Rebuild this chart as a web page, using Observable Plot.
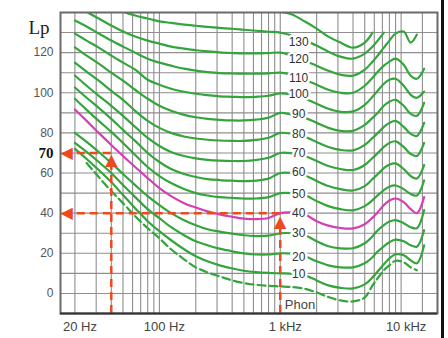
<!DOCTYPE html>
<html><head><meta charset="utf-8">
<script src="https://cdn.jsdelivr.net/npm/d3@7"></script>
<script src="https://cdn.jsdelivr.net/npm/@observablehq/plot@0.6"></script>
<style>body{margin:0;background:#fff}#chart svg{display:block}</style>
</head><body><div id="chart"></div>
<script>
// frequency grid (Hz) shared by all contours
const freqs = [20,25,31.5,40,50,63,80,100,125,160,200,250,315,400,500,630,800,1000,1250,1600,2000,2500,3150,4000,5000,5800,6300,7200,8000,9000,10500,12000,13500,15500];
// sound pressure level Lp (dB) per contour
const thr  = [null,65,58,51,45,38.5,32.5,27.5,22,17,13,10.5,8.5,6.5,5.2,4.3,3.8,3.5,3.2,2.3,0.5,-1.8,-3.5,-4,-2,4,7,11.5,14,16.3,15.5,13,11.5,null];
const p10  = [72,67,61.5,55.5,49,42.5,36,31,26.5,22,18.5,16,14,12.5,11.3,10.6,10.2,10,9.8,9,6.5,4,2.8,2.5,4.5,8,10.5,14.5,17.5,19.5,19,16.5,15,24];
const p20  = [75,70.5,65.5,60,54,48,42,37.5,33,29,26,24,22.3,21,20,19.4,19.4,20,19.8,18.5,16,14,13,13,15,18,20.5,23.5,25.5,26.8,26,24,23.3,31.5];
const p30  = [80,75.5,70.5,65,59.5,54,48.5,44,40,36.5,34,32,30.8,29.8,29,28.6,28.8,30,30,29,26,23.5,22.5,22.5,25,28.5,31,34,35.8,36.5,35,33,32.5,41.5];
const p40  = [91.7,86,80,74,68.5,63,57.5,52.5,48.5,45,42.8,40.9,39.4,38.2,37.3,37,37.6,40,40.3,39.3,36,33.8,32.6,32.4,34.5,37.8,40,44,46.3,47.3,45.5,42,40,48];
const p50  = [97,91.5,86,80.5,75,69,63,58.5,55,52,50,48.8,48,47.6,47.3,47.3,48,50,50,49,46,43.5,42,41.4,43.5,46.5,48.5,51.5,53.2,53.8,52,49.5,48.8,56.3];
const p60  = [102.6,97.5,92.5,87,81.5,76,70,65.5,62,59.5,58,57,56.5,56.2,56,56.2,57.2,60,60,58.8,56,53.5,52,51.3,53.5,57,59,62.5,64.2,64.8,62,58.5,57.3,64];
const p70  = [108.6,103.5,98.5,93.5,88.5,83,77.5,73.5,70.5,68.5,67.3,66.6,66.2,66,66,66.5,67.6,70,69.8,68.5,66,63.5,62,61.5,64,67.5,69.5,73,75,75.8,73,69.5,68.5,75];
const p80  = [115,110.5,106,101,96.5,91,86,82.5,80,78.2,77.2,76.6,76.2,76,76,76.5,77.6,80,79.5,78,75.5,73,71.5,71.3,74,77.5,79.5,83,85,86,83,79.5,78.5,85];
const p90  = [122.6,118.5,114.5,110,106,101.5,97,93.5,91,89,87.8,87,86.5,86.2,86.2,86.6,87.6,90,89,87.5,85,82.5,81,81,84,87.5,89.5,93.5,95.5,96.5,93.5,89.5,88.5,95];
const p100 = [129.5,126,122.5,118.5,115,111.5,106.5,104,102,100.5,99.5,98.8,98.2,98,97.8,98,98.5,99.7,99,97,94.5,92,90.5,90.7,94,98,100.5,104.5,106.5,107,103.5,99,97.5,100.6];
const p110 = [136,133,129.5,126,123,120,117,115,113.5,112,111,110.3,109.8,109.6,109.5,109.5,109.7,110,109,106.5,104,101.5,100,100,103.5,107.5,110,113.5,115.5,117,114,108.5,107,112];
const p120 = [146,140.5,137,133.5,130.5,128,126,124.5,123,122,121.2,120.6,120.1,119.8,119.6,119.6,119.8,120,118.5,116,113.5,111,109,108.5,111.5,115.5,118,122.5,126,129.5,130.5,125,129,null];
const p130 = [null,null,148,144,140.5,138.5,137,135.6,134.8,134,133.4,132.8,132.3,131.9,131.4,130.9,130.4,130,128.5,126,123.5,120.5,118,117,119.5,123,125.5,130,null,null,null,null,null,null];
const p140 = [null,null,null,null,null,null,null,null,null,null,null,null,null,null,null,null,null,140.4,139,135.5,132,128,125,122.5,125,130,null,null,null,null,null,null,null,null];

const curvePhons = [0,10,20,30,40,50,60,70,80,90,100,110,120,130,140];
const curveValues = [thr,p10,p20,p30,p40,p50,p60,p70,p80,p90,p100,p110,p120,p130,p140];

// curve labels (phon) and their Lp positions near 1.4 kHz
const labelPhons = [10,20,30,40,50,60,70,80,90,100,110,120,130];
const labelLp    = [9.5,18,30,40,49.3,60.3,69.8,79.2,89.2,99.2,107.1,116.6,125.1];
const labelFreq = 1420;

// axes
const yTicks = [0,20,40,60,80,100,120];
const yMarked = [70];
const xTicks = [20,100,1000,10000];
const xTickLabels = ["20 Hz","100 Hz","1 kHz","10 kHz"];
const xGrid = [20,30,40,50,60,70,80,90,100,200,300,400,500,600,700,800,900,1000,2000,3000,4000,5000,6000,7000,8000,9000,10000,15000];
const yGrid = [0,10,20,30,40,50,60,70,80,90,100,110,120,130];
const xDomain = [15.2, 20000];
const yDomain = [-10, 140];

// red reading arrows
const hArrows = [{y:70, from:40, to:19.5}, {y:40, from:1000, to:19.5}];
const vArrows = [{x:40, from:-10, to:65}, {x:1000, from:-10, to:34.5}];
const leftTips = [{y:70, x:15.8}, {y:40, x:15.8}];
const upTips = [{x:40, y:70}, {x:1000, y:39}];

const green = "#34a53c", magenta = "#d43fb3", red = "#ec4a1c";

const rows = curvePhons.flatMap((p, k) => curveValues[k].map((db, i) => ({phon: p, f: freqs[i], db})));
const labels = labelPhons.map((p, i) => ({phon: p, lp: labelLp[i], f: labelFreq}));

const chart = Plot.plot({
  width: 448, height: 338,
  marginLeft: 60, marginRight: 11, marginTop: 12, marginBottom: 25,
  x: {type: "log", domain: xDomain, axis: null},
  y: {domain: yDomain, axis: null},
  style: {background: "white", fontFamily: "'Liberation Sans', Arial, sans-serif"},
  marks: [
    Plot.ruleX(xGrid, {stroke: "#8e8e8e", strokeWidth: 1.1}),
    Plot.ruleY(yGrid, {stroke: "#8e8e8e", strokeWidth: 1.1}),
    Plot.line(rows.filter(d => d.phon > 0 && d.phon !== 40), {x: "f", y: "db", z: "phon", stroke: green, strokeWidth: 2.2, curve: "catmull-rom", clip: true}),
    Plot.line(rows.filter(d => d.phon === 0), {x: "f", y: "db", stroke: green, strokeWidth: 2.2, strokeDasharray: "8,4", curve: "catmull-rom", clip: true}),
    Plot.line(rows.filter(d => d.phon === 40), {x: "f", y: "db", stroke: magenta, strokeWidth: 2.2, curve: "catmull-rom", clip: true}),
    Plot.ruleY(hArrows, {y: "y", x1: "from", x2: "to", stroke: red, strokeWidth: 2.5, strokeDasharray: "8,5"}),
    Plot.ruleX(vArrows, {x: "x", y1: "from", y2: "to", stroke: red, strokeWidth: 2.5, strokeDasharray: "8,5"}),
    Plot.text(leftTips, {x: "x", y: "y", text: () => "\u25C0", fill: red, fontSize: 16, textAnchor: "start", dx: -2, fontFamily: "DejaVu Sans"}),
    Plot.text(upTips, {x: "x", y: "y", text: () => "\u25B2", fill: red, fontSize: 16, dy: 7, fontFamily: "DejaVu Sans"}),
    Plot.text(labels, {x: "f", y: "lp", text: d => String(d.phon), fill: "#333", stroke: "white", strokeWidth: 5, paintOrder: "stroke", fontSize: 12}),
    Plot.text([{f: 1090, db: -5.5}], {x: "f", y: "db", text: () => "Phon", textAnchor: "start", fill: "#444", fontSize: 13}),
    Plot.frame({stroke: "#6a6a6a", strokeWidth: 2}),
    Plot.ruleY([yDomain[0]], {stroke: "#333", strokeWidth: 2}),
    Plot.ruleX([xDomain[1]], {stroke: "#111", strokeWidth: 3, dx: 5, insetTop: -12, insetBottom: -25}),
    Plot.text(yTicks, {y: d => d, frameAnchor: "left", dx: -7, textAnchor: "end", fill: "#555", fontSize: 12}),
    Plot.text(yMarked, {y: d => d, frameAnchor: "left", dx: -7, textAnchor: "end", fill: "#111", fontSize: 15, fontWeight: "bold", fontFamily: "'Liberation Serif', serif"}),
    Plot.text(xTicks, {x: d => d, frameAnchor: "bottom", dy: 17, dx: 5, text: (d, i) => xTickLabels[i], fill: "#444", fontSize: 13}),
    Plot.text(["Lp"], {frameAnchor: "top-left", dx: -32, dy: 8, text: d => d, fill: "#222", fontSize: 19, fontFamily: "'Liberation Serif', serif"})
  ]
});
document.getElementById("chart").appendChild(chart);
</script>
</body></html>
